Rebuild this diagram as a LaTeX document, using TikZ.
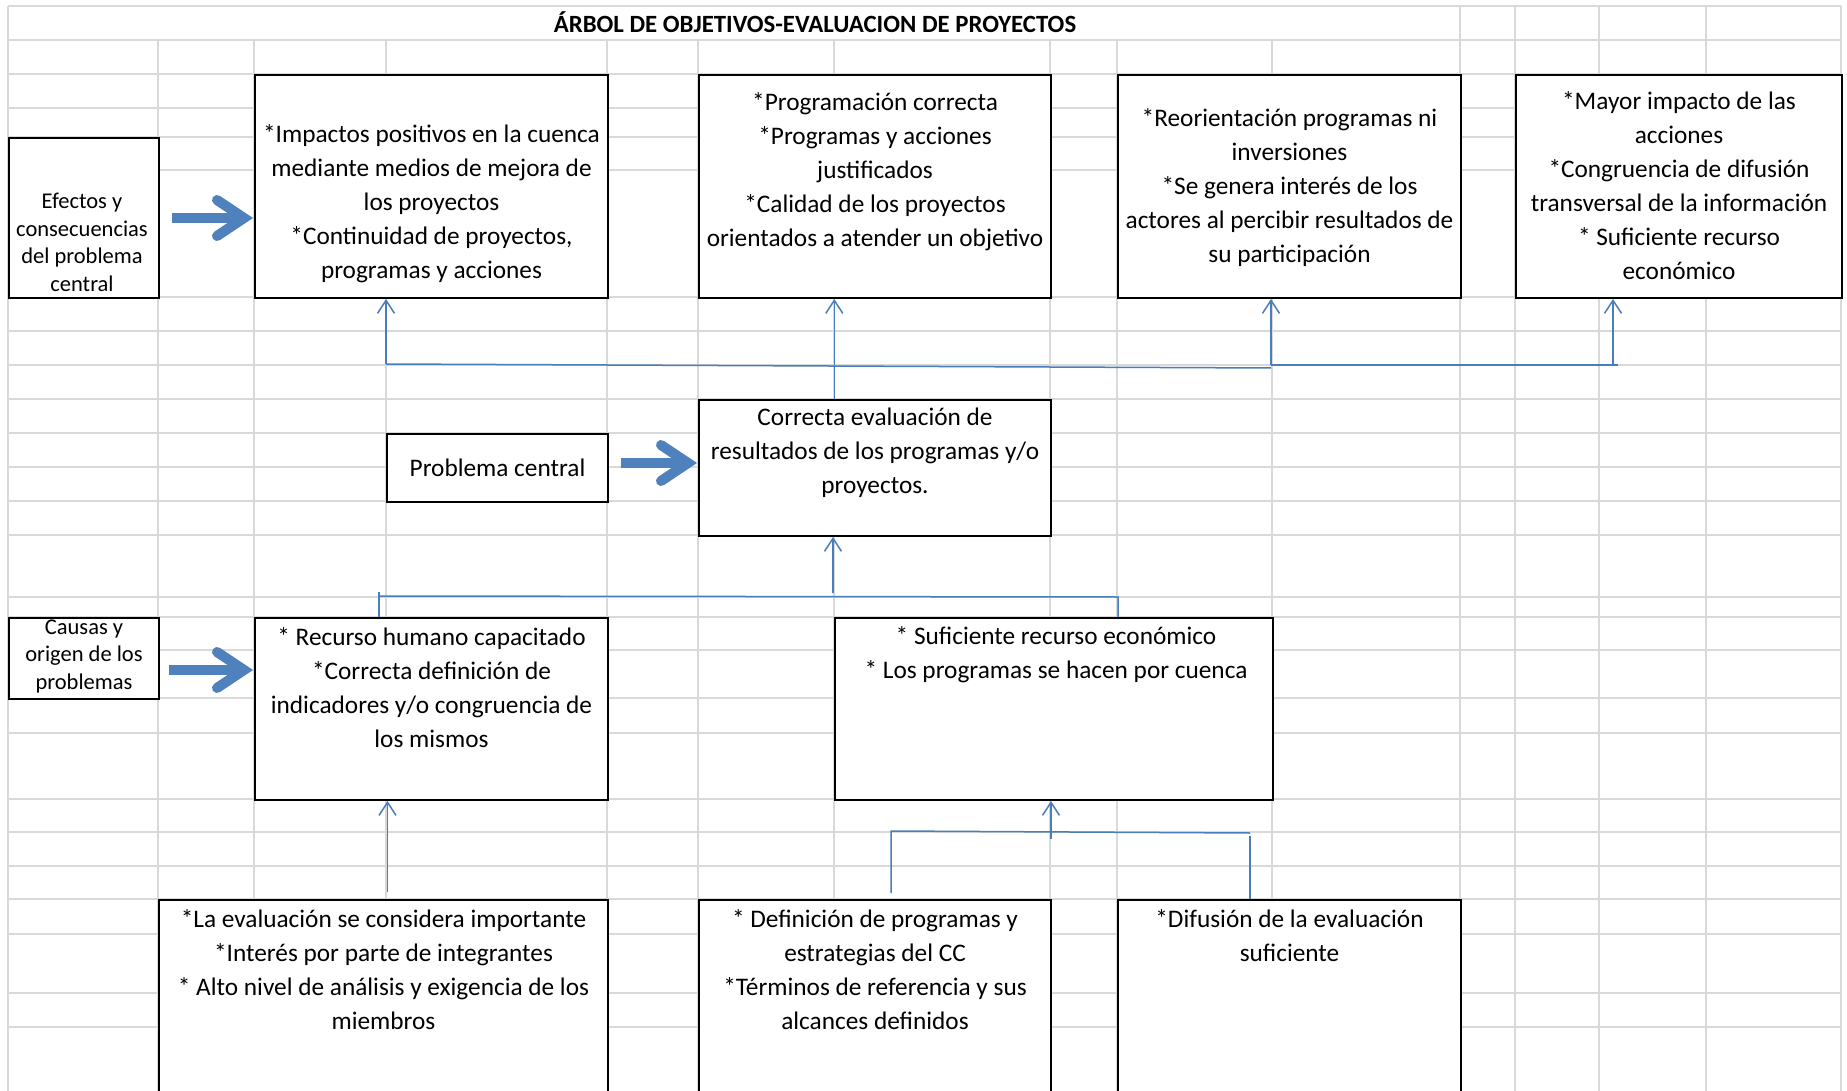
\documentclass[tikz,border=0pt]{standalone}
\usepackage{fontspec}
\setmainfont{Carlito}
\usetikzlibrary{arrows.meta,calc}
\definecolor{gridgray}{RGB}{217,217,217}
\definecolor{connblue}{RGB}{74,126,187}
\definecolor{arrowblue}{RGB}{79,129,189}
\begin{document}
\begin{tikzpicture}[x=1pt,y=-1pt,
  box/.style={draw=black, line width=2pt, fill=white, inner sep=0pt, anchor=north west, rectangle},
  txt/.style={inner sep=0pt, align=center, anchor=north, font=\fontsize{25.3}{34}\selectfont},
  lbl/.style={inner sep=0pt, align=center, anchor=north, font=\fontsize{22.5}{27.5}\selectfont},
  gridline/.style={draw=gridgray, line width=1.5pt},
  conn/.style={draw=connblue, line width=1.5pt},
  up/.style={conn, -{Straight Barb[length=13pt,width=17pt]}},
  shaft/.style={draw=arrowblue, line width=10pt},
  chevron/.pic={\draw[arrowblue, line width=10pt, line cap=round, line join=miter] (-36,-18) -- (-9,0) -- (-36,18);}
]
\useasboundingbox (0,0) rectangle (1847,1091);
\fill[white] (0,0) rectangle (1847,1091);
\clip (0,0) rectangle (1847,1091);

% sheet grid
\foreach \x in {158,254,386,607,698,834,1050,1117,1272}
  \draw[gridline] (\x,40) -- (\x,1091);
\foreach \x in {8,1460,1515,1599,1706,1841}
  \draw[gridline] (\x,6) -- (\x,1091);
\foreach \y in {6,40,74,108,137,170,297,331,365,399,433,467,501,535,597,617,650,698,733,799,832,866,899,934,993,1027}
  \draw[gridline] (8,\y) -- (1841,\y);

% title
\node[font=\bfseries\fontsize{24.8}{30}\selectfont, anchor=base, inner sep=0pt] (title) at (815,33)
  {ÁRBOL DE OBJETIVOS-EVALUACION DE PROYECTOS};

% boxes
\node[box, minimum width=150, minimum height=160] (efectos) at (8,137) {};
\node[box, minimum width=353, minimum height=223] (impactos) at (254,74) {};
\node[box, minimum width=352, minimum height=223] (programacion) at (698,74) {};
\node[box, minimum width=343, minimum height=223] (reorient) at (1117,74) {};
\node[box, minimum width=326, minimum height=223] (mayor) at (1515,74) {};
\node[box, minimum width=221, minimum height=68, font=\fontsize{25.3}{34}\selectfont] (problema) at (386,433) {Problema central};
\node[box, minimum width=352, minimum height=136] (correcta) at (698,399) {};
\node[box, minimum width=150, minimum height=81] (causas) at (8,617) {};
\node[box, minimum width=353, minimum height=182] (recurso) at (254,617) {};
\node[box, minimum width=438, minimum height=182] (suficiente) at (834,617) {};
\node[box, minimum width=449, minimum height=220] (laeval) at (158,899) {};
\node[box, minimum width=352, minimum height=220] (definicion) at (698,899) {};
\node[box, minimum width=343, minimum height=220] (difusion) at (1117,899) {};

% box texts
\node[lbl] (t-efectos) at ($(efectos.north)+(-2,52.5)$)
  {\strut Efectos y\\consecuencias\\del problema\\central};
\node[txt] (t-impactos) at ($(impactos.north)+(0,45)$)
  {\strut*Impactos positivos en la cuenca\\mediante medios de mejora de\\los proyectos\\*Continuidad de proyectos,\\programas y acciones};
\node[txt] (t-programacion) at ($(programacion.north)+(0,12.2)$)
  {\strut*Programación correcta\\*Programas y acciones\\justificados\\*Calidad de los proyectos\\orientados a atender un objetivo};
\node[txt] (t-reorient) at ($(reorient.north)+(0,28.5)$)
  {\strut*Reorientación programas ni\\inversiones\\*Se genera interés de los\\actores al percibir resultados de\\su participación};
\node[txt] (t-mayor) at ($(mayor.north)+(0,11.5)$)
  {\strut*Mayor impacto de las\\acciones\\*Congruencia de difusión\\transversal de la información\\* Suficiente recurso\\económico};
\node[txt] (t-correcta) at ($(correcta.north)+(0,2.8)$)
  {\strut Correcta evaluación de\\resultados de los programas y/o\\proyectos.};
\node[lbl] (t-causas) at ($(causas.north)+(0,-2)$)
  {\strut Causas y\\origen de los\\problemas};
\node[txt] (t-recurso) at ($(recurso.north)+(0,4)$)
  {\strut* Recurso humano capacitado\\*Correcta definición de\\indicadores y/o congruencia de\\los mismos};
\node[txt] (t-suficiente) at ($(suficiente.north)+(2,3.5)$)
  {\strut* Suficiente recurso económico\\* Los programas se hacen por cuenca};
\node[txt] (t-laeval) at ($(laeval.north)+(0,4.8)$)
  {\strut*La evaluación se considera importante\\*Interés por parte de integrantes\\* Alto nivel de análisis y exigencia de los\\miembros};
\node[txt] (t-definicion) at ($(definicion.north)+(0,4.5)$)
  {\strut* Definición de programas y\\estrategias del CC\\*Términos de referencia y sus\\alcances definidos};
\node[txt] (t-difusion) at ($(difusion.north)+(0,4.5)$)
  {\strut*Difusión de la evaluación\\suficiente};

% block arrows from the row labels
\coordinate (a1s) at ([xshift=12pt]efectos.east);
\coordinate (a1t) at ($(impactos.west |- a1s)+(-1,0)$);
\draw[shaft] (a1s) -- ($(a1t)+(-10,0)$);
\pic at (a1t) {chevron};

\coordinate (a2s) at (169,670);
\coordinate (a2t) at ($(recurso.west |- a2s)+(-1,0)$);
\draw[shaft] (a2s) -- ($(a2t)+(-10,0)$);
\pic at (a2t) {chevron};

\coordinate (a3s) at (621,463);
\coordinate (a3t) at ($(correcta.west |- a3s)+(-1,0)$);
\draw[shaft] (a3s) -- ($(a3t)+(-10,0)$);
\pic at (a3t) {chevron};

% connectors: central objective up to the effects
\coordinate (b1) at (386,364);
\coordinate (b2) at (1271,368);
\coordinate (b3) at (1271,365);
\coordinate (b4) at (1618,365);
\coordinate (b5) at (1613,365);
\coordinate (cc) at ($(correcta.north west)!0.385!(correcta.north east)$);
\draw[conn] (b1) -- (b2);
\draw[conn] (b3) -- (b4);
\draw[up] (b1) -- (b1 |- impactos.south);
\draw[up] (cc) -- (cc |- programacion.south);
\draw[up] (b3) -- (b3 |- reorient.south);
\draw[up] (b5) -- (b5 |- mayor.south);

% connectors: causes up to the central objective
\coordinate (m1) at (379,592);
\coordinate (m2) at (378,596);
\coordinate (m3) at (1118,597);
\coordinate (m4) at (833,593);
\draw[conn] (m1) -- (m1 |- recurso.north);
\draw[conn] (m2) -- (m3) -- (m3 |- suficiente.north);
\draw[up] (m4) -- (m4 |- correcta.south);

% connectors: root causes up to the causes
\coordinate (l1) at (387.5,892);
\draw[up] (l1) -- (l1 |- recurso.south);

\coordinate (r1) at (891,893);
\coordinate (r2) at (891,831);
\coordinate (r3) at (1250,833);
\coordinate (r4) at (1250,836);
\coordinate (r5) at (1051,839);
\draw[conn] (r1) -- (r2) -- (r3);
\draw[conn] (r4) -- (r4 |- difusion.north);
\draw[up] (r5) -- (r5 |- suficiente.south);
\end{tikzpicture}
\end{document}
